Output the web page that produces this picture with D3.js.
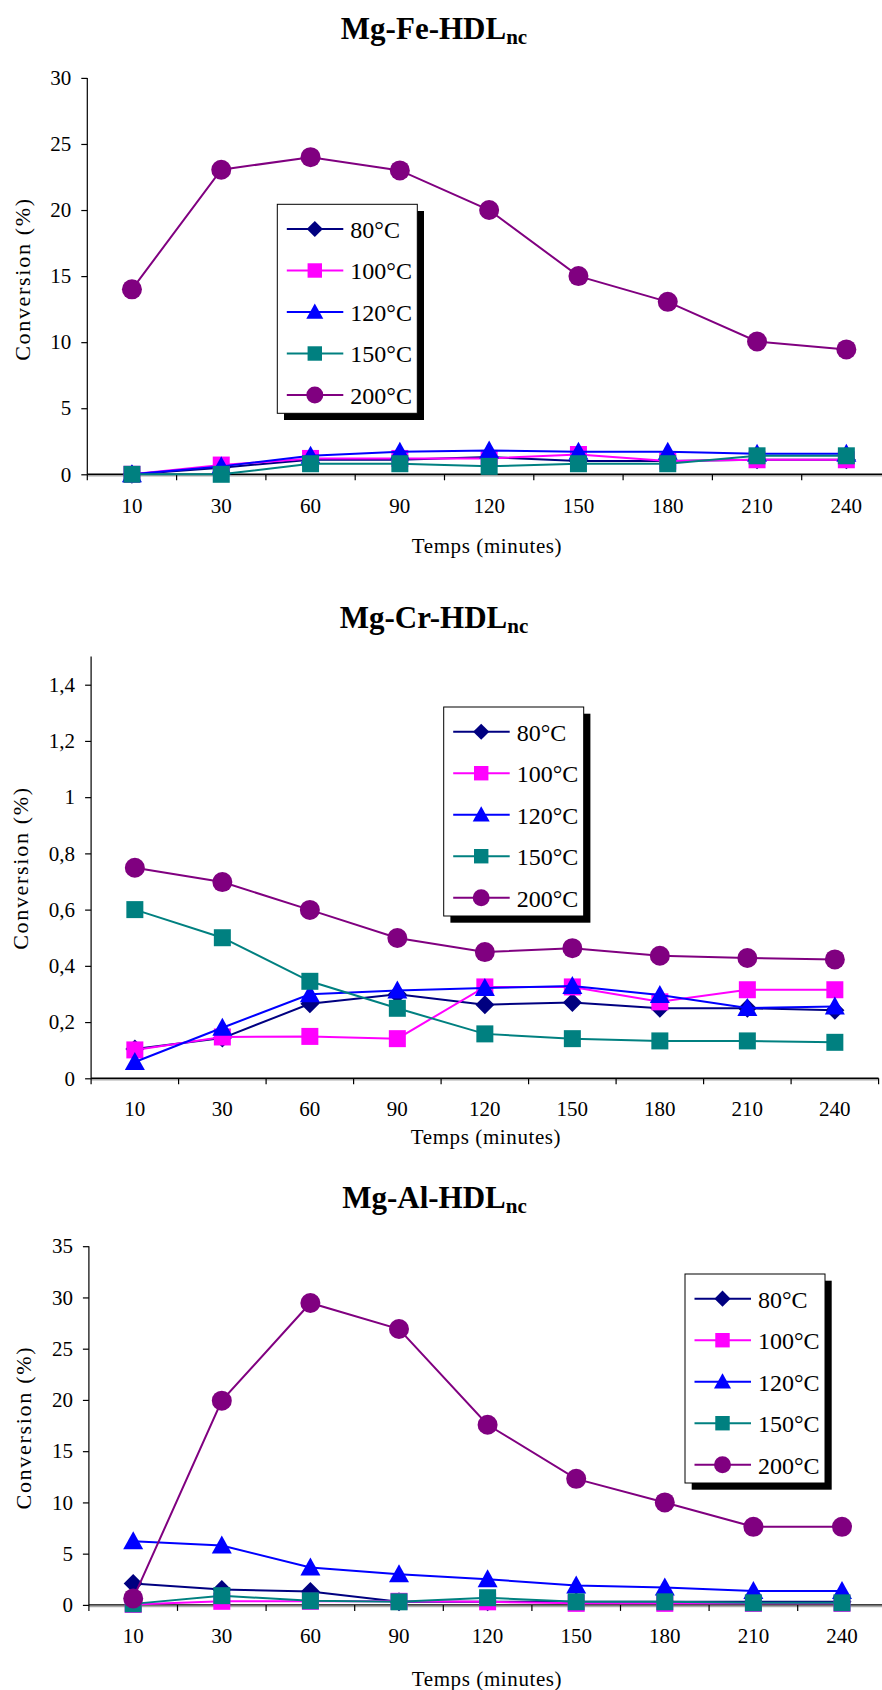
<!DOCTYPE html>
<html><head><meta charset="utf-8">
<script src="https://cdn.jsdelivr.net/npm/d3@7"></script>
<style>
body{margin:0;background:#fff}
svg{display:block}
svg text{font-family:"Liberation Serif","Times New Roman",serif !important;fill:#000}
</style>
</head><body>
<svg id="c" width="882" height="1690"></svg>
<script>
// ---------- DATA ----------
const categories = ["10","30","60","90","120","150","180","210","240"];
const seriesNames = ["80°C","100°C","120°C","150°C","200°C"];

// Mg-Fe-HDLnc
const fe80  = [0, 0.5, 1.1, 1.1, 1.3, 1.0, 1.0, 1.1, 1.1];
const fe100 = [0, 0.7, 1.2, 1.2, 1.2, 1.5, 1.0, 1.1, 1.1];
const fe120 = [0, 0.6, 1.4, 1.7, 1.8, 1.7, 1.7, 1.55, 1.55];
const fe150 = [0, 0, 0.8, 0.8, 0.6, 0.8, 0.8, 1.4, 1.4];
const fe200 = [14.0, 23.05, 24.0, 23.0, 20.0, 15.0, 13.05, 10.05, 9.45];
const feTicks = [0, 5, 10, 15, 20, 25, 30];
const feTickLabels = ["0","5","10","15","20","25","30"];

// Mg-Cr-HDLnc
const cr80  = [0.104, 0.143, 0.265, 0.299, 0.262, 0.27, 0.249, 0.249, 0.242];
const cr100 = [0.101, 0.147, 0.149, 0.141, 0.325, 0.325, 0.272, 0.315, 0.315];
const cr120 = [0.058, 0.18, 0.299, 0.312, 0.321, 0.328, 0.296, 0.25, 0.255];
const cr150 = [0.6, 0.5, 0.345, 0.249, 0.158, 0.141, 0.133, 0.133, 0.128];
const cr200 = [0.749, 0.698, 0.599, 0.499, 0.449, 0.463, 0.436, 0.428, 0.423];
const crTicks = [0, 0.2, 0.4, 0.6, 0.8, 1, 1.2, 1.4];
const crTickLabels = ["0","0,2","0,4","0,6","0,8","1","1,2","1,4"];

// Mg-Al-HDLnc
const al80  = [2.1, 1.5, 1.3, 0.3, 0.3, 0.3, 0.3, 0.3, 0.3];
const al100 = [0.05, 0.35, 0.35, 0.35, 0.3, 0.15, 0.15, 0.15, 0.15];
const al120 = [6.2, 5.8, 3.66, 3.0, 2.5, 1.9, 1.7, 1.35, 1.35];
const al150 = [0.1, 0.9, 0.4, 0.3, 0.7, 0.3, 0.3, 0.2, 0.2];
const al200 = [0.63, 19.93, 29.46, 26.92, 17.58, 12.3, 10.0, 7.62, 7.62];
const alTicks = [0, 5, 10, 15, 20, 25, 30, 35];
const alTickLabels = ["0","5","10","15","20","25","30","35"];

// ---------- STYLES ----------
const colors = ["#000080","#FF00FF","#0000FF","#008080","#800080"];
const shapes = ["diamond","square","triangle","square","circle"];
const FONT = '"Liberation Serif","Times New Roman",serif';

function markerPath(shape){
  switch(shape){
    case "diamond": return "M0,-9.5L9.5,0L0,9.5L-9.5,0Z";
    case "square": return "M-8.5,-8.5H8.5V8.5H-8.5Z";
    default: return "M0,-10L10,8L-10,8Z";
  }
}
function addMarker(g, shape, color, x, y, s){
  if(shape==="circle"){
    g.append("ellipse").attr("cx",x).attr("cy",y).attr("rx",10*s).attr("ry",10*s).attr("fill",color);
  } else {
    g.append("path").attr("d",markerPath(shape)).attr("transform",`translate(${x},${y}) scale(${s})`).attr("fill",color);
  }
}

const svg = d3.select("#c");

function drawChart(cfg){
  const g = svg.append("g");
  const x = d3.scaleBand().domain(categories).range([cfg.x0, cfg.x0 + cfg.step*categories.length]).padding(0);
  const y = d3.scaleLinear().domain([0, cfg.topVal]).range([cfg.zero, cfg.topY]);

  // title
  const t = g.append("text").attr("x", cfg.titleX).attr("y", cfg.titleY)
    .attr("text-anchor","middle").attr("font-weight","bold").attr("font-size",31).style("font-family",FONT);
  t.append("tspan").text(cfg.title);
  t.append("tspan").attr("font-size",21).attr("dy",5).text("nc");

  // y axis
  const yAxis = d3.axisLeft(y).tickValues(cfg.ticks).tickSize(6).tickSizeOuter(0).tickPadding(10)
    .tickFormat((d,i)=>cfg.tickLabels[i]);
  const ya = g.append("g").attr("transform",`translate(${cfg.x0},0)`).call(yAxis);
  ya.attr("font-family",null).attr("font-size",null);
  ya.select(".domain").remove();
  ya.append("line").attr("x1",0).attr("x2",0).attr("y1",cfg.zero).attr("y2",y(cfg.axisMax)).attr("stroke","#000").attr("stroke-width",1.2);
  ya.selectAll(".tick line").attr("stroke","#000").attr("stroke-width",1.2);
  ya.selectAll(".tick text").style("font-family",FONT).attr("font-size",21).attr("fill","#000");

  // x axis
  const xAxis = d3.axisBottom(x).tickSize(0).tickPadding(0);
  const xa = g.append("g").attr("transform",`translate(0,${cfg.zero})`).call(xAxis);
  xa.attr("font-family",null).attr("font-size",null);
  xa.select(".domain").remove();
  xa.selectAll(".tick text").style("font-family",FONT).attr("font-size",21).attr("fill","#000")
    .attr("dy",null).attr("y", cfg.xLabY - cfg.zero);
  const r = x.range();
  xa.append("line").attr("x1",r[0]).attr("x2",r[1]).attr("y1",1.5).attr("y2",1.5).attr("stroke","#aaa").attr("stroke-width",1.5);
  xa.append("line").attr("x1",r[0]).attr("x2",r[1]).attr("y1",0).attr("y2",0).attr("stroke","#000").attr("stroke-width",1.4);
  d3.range(categories.length + 1).forEach(i=>{
    const bx = r[0] + i*x.step();
    xa.append("line").attr("x1",bx).attr("x2",bx).attr("y1",0).attr("y2",6).attr("stroke","#000").attr("stroke-width",1.2);
  });

  // axis titles
  g.append("text").attr("x", cfg.xTitleX).attr("y", cfg.xTitleY).attr("text-anchor","middle").style("font-family",FONT)
    .attr("font-size",21).attr("letter-spacing",0.6).text("Temps (minutes)");
  g.append("text").attr("transform",`translate(${cfg.yTitleX},${cfg.yTitleY}) rotate(-90)`).style("font-family",FONT)
    .attr("text-anchor","middle").attr("font-size",22).attr("letter-spacing",1.7).text("Conversion (%)");

  // series
  const line = d3.line().x((d,i)=>x(categories[i]) + x.bandwidth()/2).y(d=>y(d));
  cfg.series.forEach((vals,si)=>{
    const sg = g.append("g");
    sg.append("path").attr("d",line(vals)).attr("fill","none").attr("stroke",colors[si]).attr("stroke-width",2);
    vals.forEach((v,i)=>addMarker(sg, shapes[si], colors[si], x(categories[i]) + x.bandwidth()/2, y(v), 1));
  });

  // legend
  const L = cfg.legend;
  const lg = g.append("g").attr("transform",`translate(${L.x},${L.y})`);
  lg.append("rect").attr("x",6.7).attr("y",6.7).attr("width",140).attr("height",209).attr("fill","#000");
  lg.append("rect").attr("x",0).attr("y",0).attr("width",140).attr("height",209).attr("fill","#fff").attr("stroke","#000").attr("stroke-width",1);
  seriesNames.forEach((nm,si)=>{
    const ly = 24.7 + si*41.5;
    lg.append("line").attr("x1",9.5).attr("x2",66).attr("y1",ly).attr("y2",ly).attr("stroke",colors[si]).attr("stroke-width",2);
    addMarker(lg, shapes[si], colors[si], 37.5, ly, 0.85);
    lg.append("text").attr("x",73).attr("y",ly+9).style("font-family",FONT).attr("font-size",24).text(nm);
  });
}

drawChart({
  title:"Mg-Fe-HDL", series:[fe80,fe100,fe120,fe150,fe200],
  ticks:feTicks, tickLabels:feTickLabels, topVal:30, axisMax:30,
  x0:87.3, step:89.3, zero:474.3, topY:77.9,
  titleX:434, titleY:38.6, xLabY:513, xTitleX:487, xTitleY:553,
  yTitleX:30, yTitleY:279, legend:{x:277.3,y:204.3}
});
drawChart({
  title:"Mg-Cr-HDL", series:[cr80,cr100,cr120,cr150,cr200],
  ticks:crTicks, tickLabels:crTickLabels, topVal:1.4, axisMax:1.5,
  x0:91.1, step:87.5, zero:1078.3, topY:684.7,
  titleX:434, titleY:627.5, xLabY:1116, xTitleX:486, xTitleY:1144,
  yTitleX:28, yTitleY:868, legend:{x:443.7,y:707}
});
drawChart({
  title:"Mg-Al-HDL", series:[al80,al100,al120,al150,al200],
  ticks:alTicks, tickLabels:alTickLabels, topVal:35, axisMax:35,
  x0:88.9, step:88.6, zero:1604.9, topY:1246.2,
  titleX:434.5, titleY:1207.5, xLabY:1643.5, xTitleX:487, xTitleY:1686,
  yTitleX:31, yTitleY:1427.6, legend:{x:685,y:1274}
});
</script>
</body></html>
